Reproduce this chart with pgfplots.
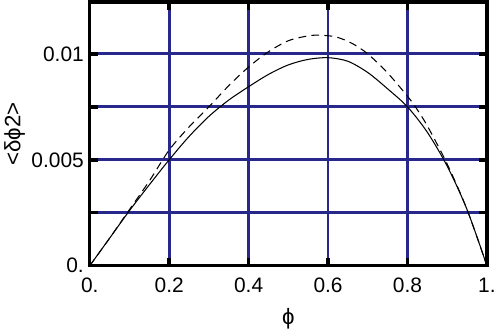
\documentclass[border=0pt]{standalone}
\usepackage{pgfplots}
\pgfplotsset{compat=1.18}
\usepackage{fontspec}
\setmainfont{Liberation Sans}
\definecolor{gridblue}{RGB}{40,40,140}
\begin{document}
\begin{tikzpicture}
\begin{axis}[
  scale only axis,
  width=303.75pt, height=201.75pt,
  xmin=0, xmax=1, ymin=0, ymax=0.01245,
  xtick={0,0.2,0.4,0.6,0.8,1},
  xticklabels={0.,0.2,0.4,0.6,0.8,1.},
  ytick={0,0.0025,0.005,0.0075,0.01},
  yticklabels={0.,,0.005,,0.01},
  scaled y ticks=false,
  grid=major,
  major grid style={gridblue, line width=2.2pt},
  axis line style={line width=2.6pt},
  every tick/.style={black, line width=2.6pt},
  major tick length=6pt,
  tick align=inside,
  ticklabel style={font=\fontsize{16}{19}\selectfont},
  xticklabel style={yshift=-6pt},
  yticklabel style={xshift=-1pt},
  /pgf/number format/assume math mode=true,
  xlabel={ϕ},
  ylabel={<δϕ2>},
  label style={font=\fontsize{17}{20}\selectfont},
  xlabel style={yshift=-5pt},
  ylabel style={yshift=-2pt},
  clip=true,
]
\addplot[black, line width=0.8pt, smooth] coordinates {
(0,0) (0.05,0.00130) (0.10,0.00260) (0.15,0.00382) (0.20,0.00500)
(0.25,0.00610) (0.30,0.00705) (0.35,0.00782) (0.40,0.00845) (0.45,0.00903)
(0.50,0.00948) (0.55,0.00974) (0.60,0.00982) (0.65,0.00965) (0.70,0.00912)
(0.75,0.00835) (0.80,0.00750) (0.85,0.00630) (0.90,0.00470) (0.95,0.00265) (1.00,0)
};
\addplot[black, line width=0.8pt, dashed, dash pattern=on 6pt off 4pt, smooth] coordinates {
(0,0) (0.05,0.00130) (0.10,0.00265) (0.15,0.00400) (0.20,0.00546)
(0.25,0.00655) (0.30,0.00750) (0.35,0.00850) (0.40,0.00938) (0.45,0.01010)
(0.50,0.01062) (0.55,0.01085) (0.58,0.01088) (0.62,0.01080) (0.66,0.01050)
(0.70,0.01000) (0.75,0.00910) (0.80,0.00800) (0.82,0.00750) (0.85,0.00660)
(0.90,0.00480) (0.95,0.00265) (1.00,0)
};
\end{axis}
\path (current axis.south west) ++(-66pt,-45pt) rectangle ([xshift=5pt,yshift=1.5pt]current axis.north east);
\end{tikzpicture}
\end{document}
